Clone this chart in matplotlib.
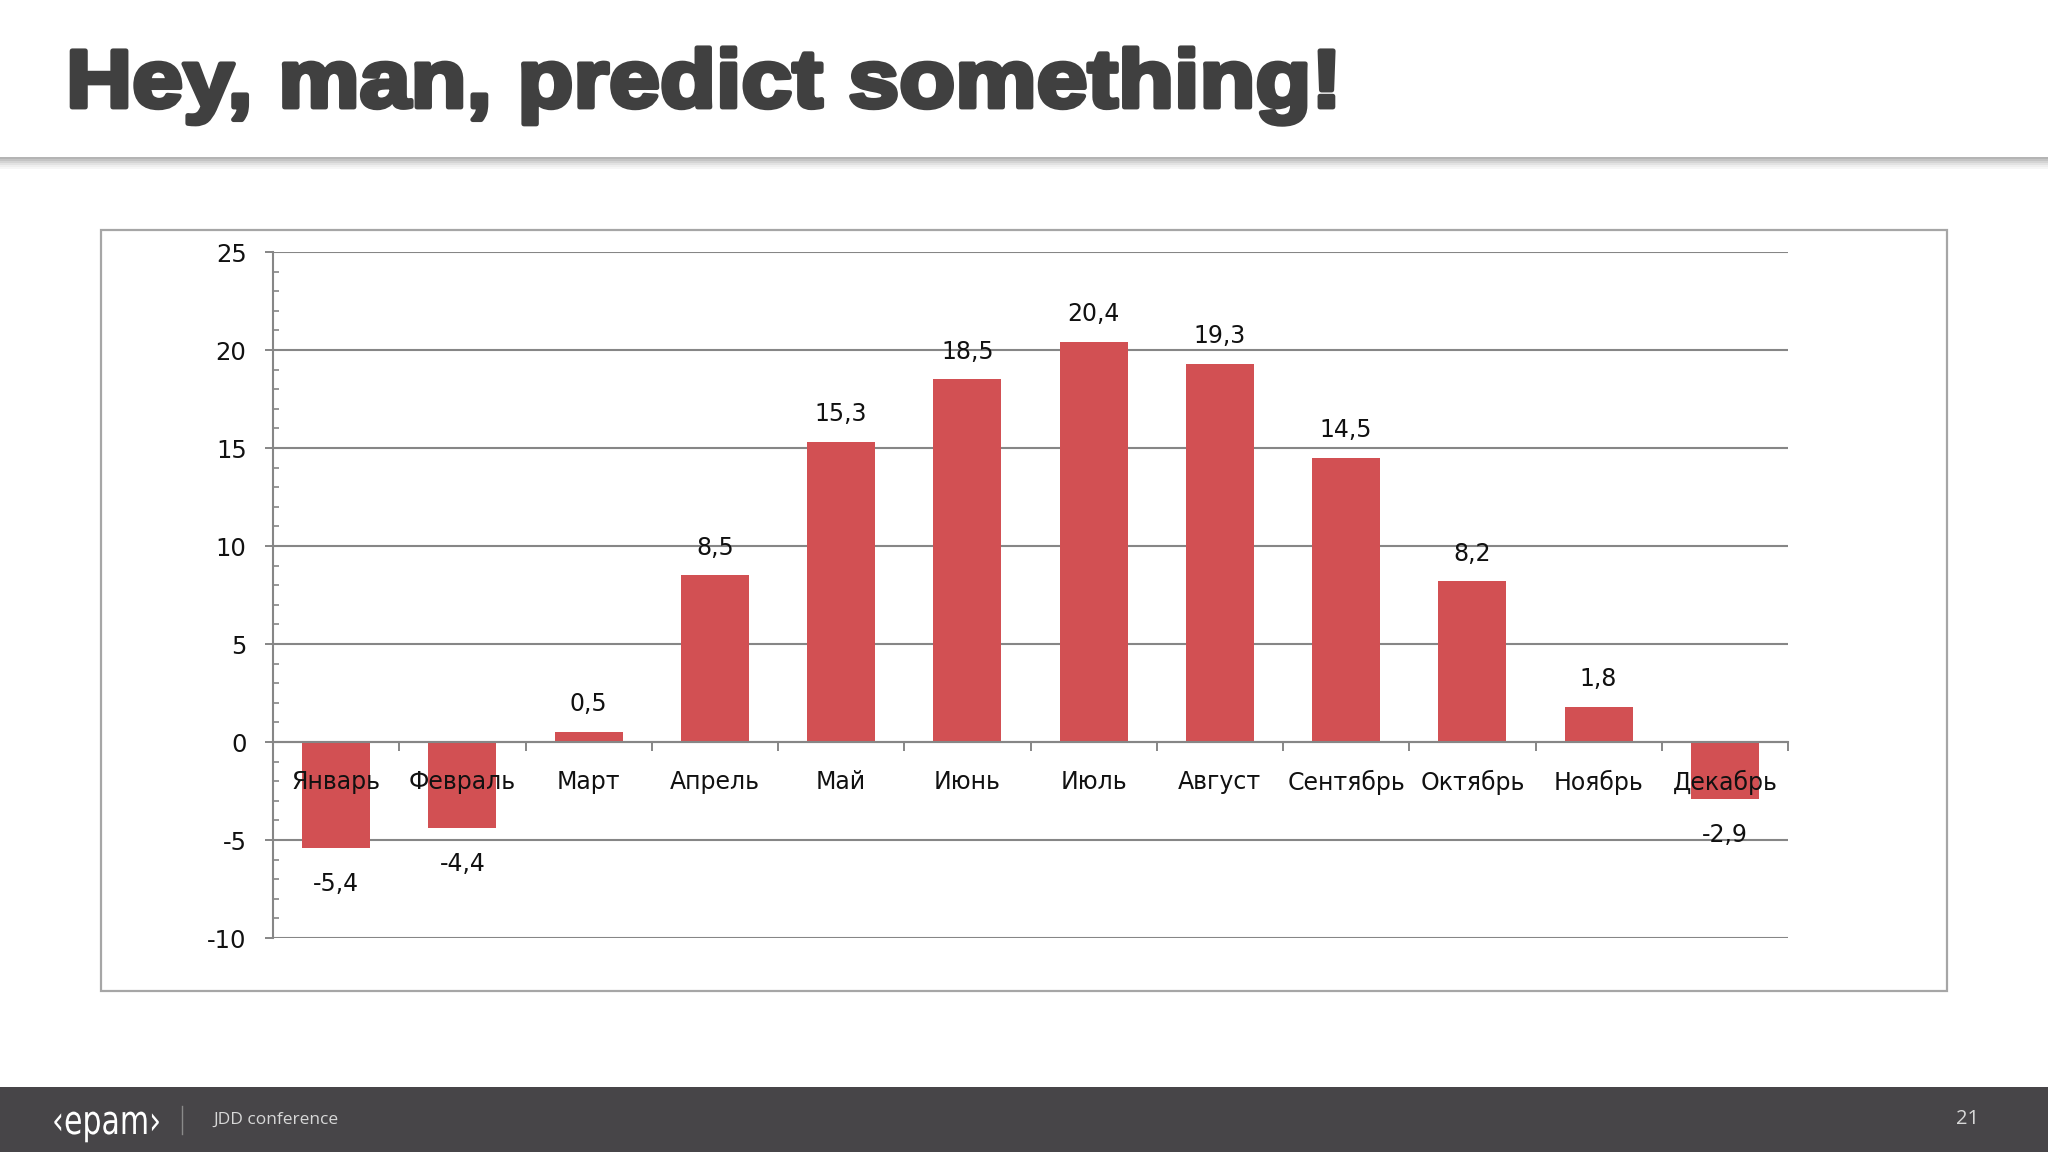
import numpy as np
import matplotlib
matplotlib.use("Agg")
import matplotlib.pyplot as plt
from matplotlib.patches import Rectangle, PathPatch
from matplotlib.textpath import TextPath
from matplotlib.font_manager import FontProperties
from matplotlib.transforms import Affine2D

plt.rcParams['axes.unicode_minus'] = False

# data
months = ["Январь", "Февраль", "Март", "Апрель", "Май", "Июнь",
          "Июль", "Август", "Сентябрь", "Октябрь", "Ноябрь", "Декабрь"]
temps = [-5.4, -4.4, 0.5, 8.5, 15.3, 18.5, 20.4, 19.3, 14.5, 8.2, 1.8, -2.9]
yticks = [-10, -5, 0, 5, 10, 15, 20, 25]

title = "Hey, man, predict something!"
logo = "‹epam›"
footer_text = "JDD conference"
page_no = "21"

W, H = 2048, 1152
fig = plt.figure(figsize=(W / 100, H / 100), dpi=100)
fig.patch.set_facecolor("white")

def fx(px):
    return px / W

def fy(py):
    return 1 - py / H

# title: bold path stretched sideways and thickened to look like a black face
tp = TextPath((0, 0), title, size=80, prop=FontProperties(family="Liberation Sans", weight="bold"))
title_tr = Affine2D().scale(1.145, 1.02).translate(66, H - 107)
fig.add_artist(PathPatch(tp, transform=title_tr, facecolor="#404040", edgecolor="#404040",
                         lw=3.5, joinstyle="round"))

# header shadow
for i, c in enumerate(["#b4b4b4", "#c4c4c4", "#d4d4d4", "#e2e2e2", "#eeeeee", "#f6f6f6"]):
    fig.add_artist(Rectangle((0, fy(157 + 2 * i + 2)), 1, 2 / H, transform=fig.transFigure,
                             facecolor=c, edgecolor="none"))

# chart frame
fig.add_artist(Rectangle((fx(101), fy(991)), fx(1947) - fx(101), fy(230) - fy(991),
                         transform=fig.transFigure, facecolor="white",
                         edgecolor="#a6a6a6", lw=1.6, zorder=0))

# plot area
ax = fig.add_axes([fx(273), fy(938), fx(1788) - fx(273), fy(252) - fy(938)])
ax.set_facecolor("none")
x = np.arange(len(months))
ax.bar(x, temps, width=0.54, color="#d25053", zorder=2)

ax.set_xlim(-0.5, len(months) - 0.5)
ax.set_ylim(-10, 25)

gc = "#868686"
ax.set_yticks(yticks)
ax.set_yticks(np.arange(-10, 26, 1), minor=True)
ax.tick_params(axis="y", which="major", direction="out", length=6, width=1.4,
               color=gc, labelsize=17.5, pad=13, labelcolor="#111111")
ax.tick_params(axis="y", which="minor", direction="in", length=4.5, width=1.2, color=gc)
ax.yaxis.grid(True, which="major", color=gc, lw=1.5)
ax.set_axisbelow(True)

# boundary ticks on the category axis
ax.set_xticks(np.arange(0.5, len(months) - 0.4, 1))
ax.set_xticklabels([])
ax.tick_params(axis="x", which="major", direction="out", length=6.5, width=1.4, color=gc)

# month names sit just under the zero line, over the bars
for xi, m in zip(x, months):
    ax.annotate(m, (xi, 0), xytext=(0, -29), textcoords="offset points",
                ha="center", va="center", fontsize=17, color="#111111", zorder=5)

for s in ["top", "right"]:
    ax.spines[s].set_visible(False)
ax.spines["left"].set_color(gc)
ax.spines["left"].set_linewidth(1.5)
ax.spines["bottom"].set_position(("data", 0))
ax.spines["bottom"].set_color(gc)
ax.spines["bottom"].set_linewidth(1.5)

# value labels
for xi, v in zip(x, temps):
    off = 20 if v >= 0 else -26
    ax.annotate(str(v).replace(".", ","), (xi, v), xytext=(0, off),
                textcoords="offset points", ha="center", va="center",
                fontsize=17, color="#111111", zorder=5)

# footer
fig.add_artist(Rectangle((0, 0), 1, fy(1087), transform=fig.transFigure,
                         facecolor="#474548", edgecolor="none"))
lp = TextPath((0, 0), logo, size=40, prop=FontProperties(family="DejaVu Sans"))
fig.add_artist(PathPatch(lp, transform=Affine2D().scale(0.75, 1.0).translate(52, H - 1134),
                         facecolor="white", edgecolor="none"))
fig.add_artist(plt.Line2D([fx(182), fx(182)], [fy(1106), fy(1134)],
                          transform=fig.transFigure, color="#8a8a8a", lw=1))
fig.text(fx(213), fy(1120), footer_text, fontsize=12.5, color="#d8d8d8",
         family="Open Sans", va="center", ha="left")
fig.text(fx(1956), fy(1119), page_no, fontsize=14.5, color="#d8d8d8",
         family="Open Sans", va="center", ha="left")

fig.savefig("out.png", dpi=100)
